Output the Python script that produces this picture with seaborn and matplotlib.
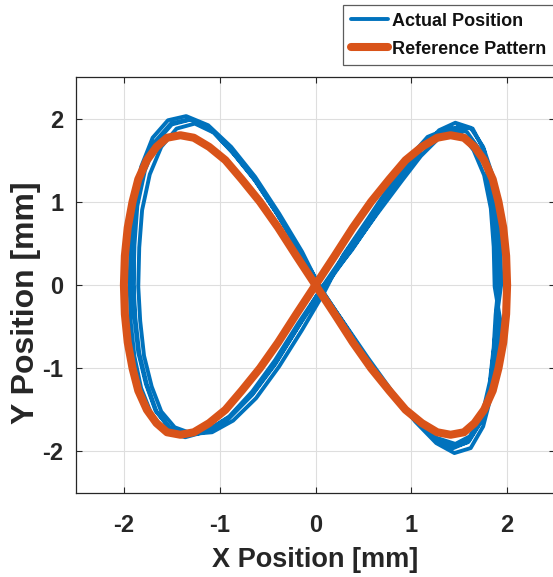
import matplotlib
matplotlib.use("Agg")
import matplotlib.pyplot as plt
import seaborn as sns
import pandas as pd
from matplotlib import font_manager

# ---------------- data ----------------
ref_x = [2.00, 1.99, 1.96, 1.91, 1.85, 1.76, 1.66, 1.55, 1.41, 1.27, 1.11, 0.94, 0.77, 0.58, 0.39, 0.20,
         0.00, -0.20, -0.39, -0.58, -0.77, -0.94, -1.11, -1.27, -1.41, -1.55, -1.66, -1.76, -1.85, -1.91, -1.96, -1.99,
         -2.00, -1.99, -1.96, -1.91, -1.85, -1.76, -1.66, -1.55, -1.41, -1.27, -1.11, -0.94, -0.77, -0.58, -0.39, -0.20,
         0.00, 0.20, 0.39, 0.58, 0.77, 0.94, 1.11, 1.27, 1.41, 1.55, 1.66, 1.76, 1.85, 1.91, 1.96, 1.99, 2.00]
ref_y = [0.00, 0.35, 0.69, 1.00, 1.27, 1.50, 1.66, 1.77, 1.80, 1.77, 1.66, 1.50, 1.27, 1.00, 0.69, 0.35,
         0.00, -0.35, -0.69, -1.00, -1.27, -1.50, -1.66, -1.77, -1.80, -1.77, -1.66, -1.50, -1.27, -1.00, -0.69, -0.35,
         0.00, 0.35, 0.69, 1.00, 1.27, 1.50, 1.66, 1.77, 1.80, 1.77, 1.66, 1.50, 1.27, 1.00, 0.69, 0.35,
         0.00, -0.35, -0.69, -1.00, -1.27, -1.50, -1.66, -1.77, -1.80, -1.77, -1.66, -1.50, -1.27, -1.00, -0.69, -0.35, 0.00]

act_x = [
    # loop 1
    1.90, 1.89, 1.86, 1.80, 1.76, 1.64, 1.48, 1.30, 1.10, 0.90, 0.64, 0.36,
    0.08, -0.18, -0.42, -0.66, -0.90, -1.12, -1.32, -1.52, -1.66, -1.76, -1.84, -1.88,
    -1.90, -1.89, -1.86, -1.78, -1.66, -1.50, -1.30, -1.10, -0.88, -0.64, -0.40, -0.16,
    0.06, 0.30, 0.54, 0.78, 1.02, 1.24, 1.44, 1.60, 1.74, 1.82, 1.86, 1.89,
    # loop 2
    1.94, 1.93, 1.90, 1.85, 1.75, 1.62, 1.46, 1.29, 1.10, 0.90, 0.65, 0.38,
    0.07, -0.18, -0.42, -0.66, -0.90, -1.14, -1.36, -1.56, -1.71, -1.82, -1.89, -1.93,
    -1.94, -1.93, -1.90, -1.82, -1.70, -1.54, -1.35, -1.12, -0.88, -0.63, -0.38, -0.14,
    0.06, 0.30, 0.55, 0.80, 1.04, 1.26, 1.45, 1.62, 1.75, 1.84, 1.89, 1.93,
    # loop 3
    1.87, 1.86, 1.83, 1.76, 1.65, 1.52, 1.36, 1.17, 0.97, 0.78, 0.55, 0.29,
    0.09, -0.14, -0.38, -0.62, -0.86, -1.08, -1.28, -1.47, -1.61, -1.71, -1.79, -1.83,
    -1.85, -1.84, -1.81, -1.73, -1.61, -1.45, -1.26, -1.06, -0.85, -0.62, -0.38, -0.14,
    0.09, 0.33, 0.57, 0.81, 1.05, 1.27, 1.46, 1.61, 1.74, 1.82, 1.86, 1.88,
    # loop 4
    1.91, 1.90, 1.87, 1.81, 1.71, 1.58, 1.42, 1.23, 1.02, 0.82, 0.58, 0.31,
    0.06, -0.18, -0.42, -0.66, -0.90, -1.13, -1.34, -1.53, -1.67, -1.77, -1.85, -1.89,
    -1.90, -1.90, -1.87, -1.79, -1.67, -1.51, -1.31, -1.11, -0.89, -0.65, -0.41, -0.17,
    0.05, 0.29, 0.53, 0.77, 1.01, 1.23, 1.43, 1.59, 1.73, 1.82, 1.87, 1.89,
    1.90]
act_y = [
    # loop 1
    0.00, 0.46, 0.92, 1.32, 1.62, 1.88, 1.90, 1.78, 1.55, 1.25, 0.85, 0.40,
    -0.05, -0.50, -0.95, -1.32, -1.60, -1.76, -1.80, -1.72, -1.52, -1.20, -0.82, -0.40,
    0.00, 0.48, 0.95, 1.38, 1.72, 1.93, 1.99, 1.88, 1.62, 1.28, 0.86, 0.40,
    -0.06, -0.48, -0.90, -1.28, -1.60, -1.84, -1.96, -1.88, -1.62, -1.22, -0.80, -0.40,
    # loop 2
    0.02, 0.44, 0.90, 1.31, 1.66, 1.89, 1.95, 1.86, 1.62, 1.30, 0.88, 0.42,
    -0.03, -0.46, -0.90, -1.28, -1.58, -1.76, -1.83, -1.76, -1.56, -1.24, -0.86, -0.43,
    0.02, 0.50, 0.98, 1.42, 1.77, 1.98, 2.03, 1.92, 1.66, 1.30, 0.86, 0.40,
    -0.06, -0.46, -0.88, -1.28, -1.64, -1.90, -2.02, -1.96, -1.70, -1.30, -0.86, -0.43,
    # loop 3
    -0.02, 0.46, 0.92, 1.32, 1.62, 1.82, 1.87, 1.78, 1.52, 1.20, 0.80, 0.36,
    -0.09, -0.54, -0.98, -1.36, -1.63, -1.77, -1.79, -1.71, -1.52, -1.22, -0.85, -0.43,
    -0.02, 0.45, 0.90, 1.33, 1.66, 1.88, 1.94, 1.83, 1.57, 1.24, 0.82, 0.36,
    -0.10, -0.52, -0.94, -1.32, -1.62, -1.84, -1.91, -1.82, -1.56, -1.16, -0.75, -0.36,
    # loop 4
    0.00, 0.45, 0.91, 1.31, 1.63, 1.84, 1.89, 1.79, 1.54, 1.22, 0.82, 0.38,
    -0.04, -0.50, -0.94, -1.31, -1.59, -1.75, -1.79, -1.71, -1.51, -1.19, -0.81, -0.40,
    0.01, 0.49, 0.96, 1.39, 1.73, 1.94, 1.99, 1.89, 1.63, 1.29, 0.87, 0.41,
    -0.05, -0.47, -0.89, -1.27, -1.59, -1.83, -1.95, -1.89, -1.63, -1.23, -0.82, -0.41,
    0.00]

x_ticks = [-2, -1, 0, 1, 2]
y_ticks = [-2, -1, 0, 1, 2]
x_label = "X Position [mm]"
y_label = "Y Position [mm]"
series_names = ["Actual Position", "Reference Pattern"]

# ---------------- style ----------------
sns.set_theme(style="white")
names = {f.name for f in font_manager.fontManager.ttflist}
narrow = "Liberation Sans Narrow" if "Liberation Sans Narrow" in names else "Liberation Sans"
plt.rcParams["font.family"] = [narrow, "DejaVu Sans"]
plt.rcParams["font.weight"] = "bold"

BLUE = "#0072BD"
ORANGE = "#D95319"
TXT = "#262626"

df_act = pd.DataFrame({"x": act_x, "y": act_y, "series": series_names[0]})
df_ref = pd.DataFrame({"x": ref_x, "y": ref_y, "series": series_names[1]})

fig = plt.figure(figsize=(5.53, 5.77), dpi=100)
ax = fig.add_axes([76 / 553, 1 - 493 / 577, (555 - 76) / 553, (493 - 77) / 577])

sns.lineplot(data=df_act, x="x", y="y", sort=False, estimator=None, color=BLUE,
             linewidth=2.8, ax=ax, label=series_names[0])
sns.lineplot(data=df_ref, x="x", y="y", sort=False, estimator=None, color=ORANGE,
             linewidth=5.8, ax=ax, label=series_names[1])

ax.set_xlim(-2.5, 2.5)
ax.set_ylim(-2.5, 2.5)
ax.set_xticks(x_ticks)
ax.set_yticks(y_ticks)
ax.set_xticklabels([str(v) for v in x_ticks])
ax.set_yticklabels([str(v) for v in y_ticks])
ax.grid(True, color="#dedede", linewidth=0.8)
ax.set_axisbelow(True)

for s in ax.spines.values():
    s.set_color(TXT)
    s.set_linewidth(0.9)

ax.tick_params(axis="both", direction="in", length=4, width=0.8, color=TXT,
               top=True, right=True, bottom=True, left=True)
ax.tick_params(axis="x", pad=15, labelsize=17, labelcolor=TXT)
ax.tick_params(axis="y", pad=9, labelsize=17, labelcolor=TXT)
for lab in ax.get_xticklabels() + ax.get_yticklabels():
    lab.set_fontweight("bold")

ax.set_xlabel(x_label, fontsize=19.5, fontweight="bold", color=TXT)
ax.set_ylabel(y_label, fontsize=23, fontweight="bold", color=TXT,
              family=["Liberation Sans", "DejaVu Sans"])
# label centres (pixels -> axes fraction)
ax.xaxis.set_label_coords((315 - 76) / 479, -(560 - 493) / 416)
ax.yaxis.set_label_coords(-(76 - 26) / 479, (493 - 303) / 416)
ax.xaxis.label.set_va("center")
ax.yaxis.label.set_va("center")

leg = ax.legend(loc="upper left", bbox_to_anchor=(343 / 553, 1 - 5 / 577),
                bbox_transform=fig.transFigure, borderaxespad=0, frameon=True,
                fancybox=False, edgecolor="#333333",
                handlelength=2.05, handletextpad=0.25, borderpad=0.42, labelspacing=0.62,
                prop={"family": [narrow, "DejaVu Sans"], "weight": "bold", "size": 13})
leg.get_frame().set_linewidth(0.9)
for t in leg.get_texts():
    t.set_color("#111111")

fig.savefig("out.png", dpi=100)
